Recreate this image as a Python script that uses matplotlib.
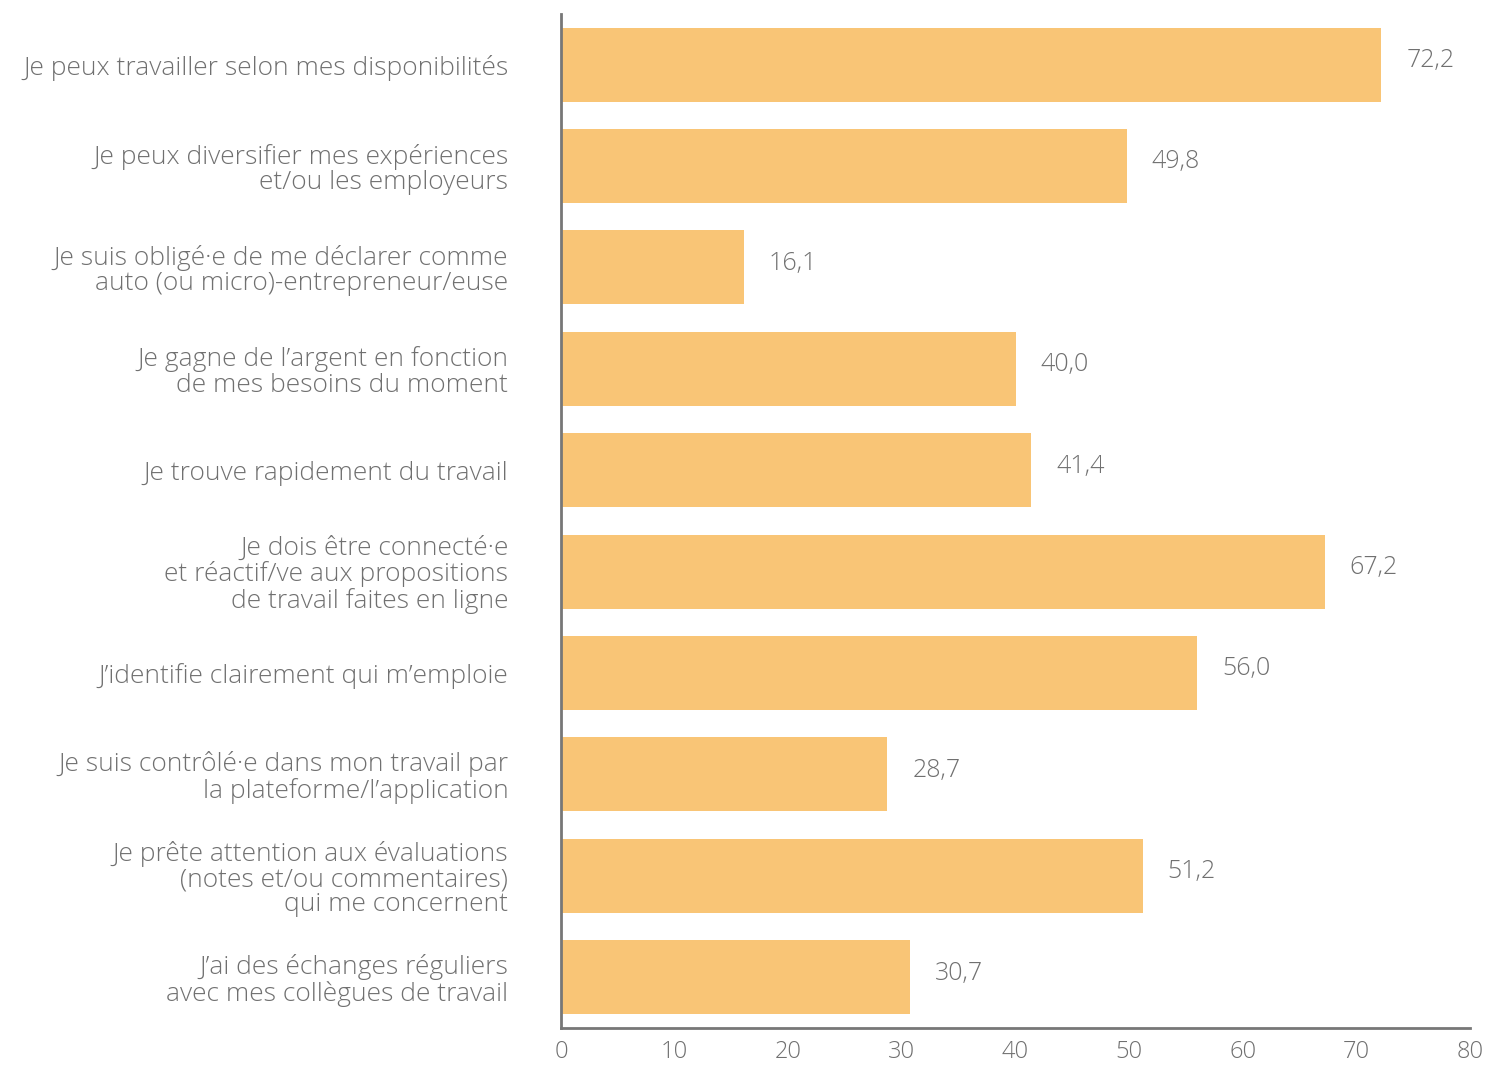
import matplotlib
matplotlib.use("Agg")
import matplotlib.pyplot as plt

labels = [
    "Je peux travailler selon mes disponibilités",
    "Je peux diversifier mes expériences\net/ou les employeurs",
    "Je suis obligé·e de me déclarer comme\nauto (ou micro)-entrepreneur/euse",
    "Je gagne de l’argent en fonction\nde mes besoins du moment",
    "Je trouve rapidement du travail",
    "Je dois être connecté·e\net réactif/ve aux propositions\nde travail faites en ligne",
    "J’identifie clairement qui m’emploie",
    "Je suis contrôlé·e dans mon travail par\nla plateforme/l’application",
    "Je prête attention aux évaluations\n(notes et/ou commentaires)\nqui me concernent",
    "J’ai des échanges réguliers\navec mes collègues de travail",
]
values = [72.2, 49.8, 16.1, 40.0, 41.4, 67.2, 56.0, 28.7, 51.2, 30.7]
xticks = [0, 10, 20, 30, 40, 50, 60, 70, 80]

plt.rcParams['font.family'] = ['Open Sans', 'DejaVu Sans']
plt.rcParams['font.weight'] = 'light'

text_color = '#707070'
bar_color = '#F9C576'

fig = plt.figure(figsize=(14.91, 10.67), dpi=100)
ax = fig.add_axes([0.3763, 0.0366, 0.6096, 0.9503])

ypos = list(range(len(values)))
ax.barh(ypos, values, height=0.73, color=bar_color, zorder=2)
for y, v in zip(ypos, values):
    ax.annotate(f"{v:.1f}".replace('.', ','), (v, y), xytext=(18, 3),
                textcoords='offset points', va='center', ha='left',
                fontsize=18, color=text_color)

ax.set_yticks(ypos)
ax.set_yticklabels(labels, fontsize=19, color=text_color, ha='right',
                   linespacing=1.02)
ax.set_ylim(9.5, -0.5)
ax.set_xlim(0, 80)
ax.set_xticks(xticks)
ax.set_xticklabels([str(t) for t in xticks], fontsize=17, color=text_color)
ax.tick_params(axis='both', length=0)
ax.tick_params(axis='y', pad=38)
ax.tick_params(axis='x', pad=9)

for side in ['top', 'right']:
    ax.spines[side].set_visible(False)
for side in ['left', 'bottom']:
    ax.spines[side].set_color('#777777')
    ax.spines[side].set_linewidth(2)

fig.savefig("out.png", dpi=100)
